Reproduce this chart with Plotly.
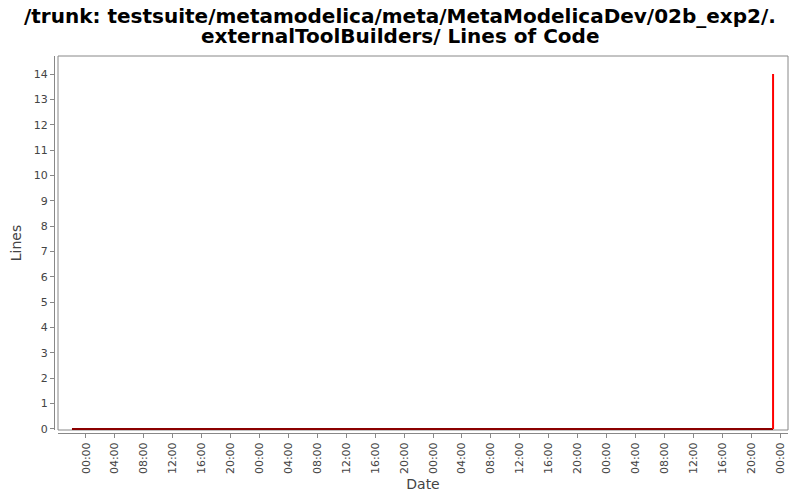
import plotly.graph_objects as go

# Data
base_dates = ["2008-01-06 22:04", "2008-01-10 23:02"]
base_values = [0, 0]
jump_dates = ["2008-01-10 23:02", "2008-01-10 23:02"]
jump_values = [0, 14]
y_ticks = list(range(0, 15))
title_lines = ["/trunk: testsuite/metamodelica/meta/MetaModelicaDev/02b_exp2/.",
               "externalToolBuilders/ Lines of Code"]

fig = go.Figure()
fig.add_trace(go.Scatter(x=base_dates, y=base_values, mode="lines",
                         line=dict(color="#8b0000", width=2), showlegend=False))
fig.add_trace(go.Scatter(x=jump_dates, y=jump_values, mode="lines",
                         line=dict(color="#ff0000", width=2), showlegend=False))

font = "DejaVu Sans, Arial, sans-serif"
W, H = 792, 492
ml, mr, mt, mb = 46, 12, 48, 67
plot_h = H - mt - mb
plot_w = W - ml - mr
fig.update_layout(
    width=W, height=H,
    margin=dict(l=ml, r=mr, t=mt, b=mb),
    paper_bgcolor="white", plot_bgcolor="white",
    xaxis=dict(
        domain=[4/plot_w, 1], anchor="free", position=0, automargin=False,
        type="date",
        range=["2008-01-06 20:08", "2008-01-11 01:06"],
        tickformat="%H:%M", dtick=4*3600*1000, tick0="2008-01-07 00:00",
        tickangle=-90, ticks="outside", ticklen=4, tickcolor="#888",
        showline=True, linecolor="#888", linewidth=1,
        showgrid=False, zeroline=False,
        tickfont=dict(family=font, size=11, color="#444"),
        title=dict(text="Date", font=dict(family=font, size=14, color="#444"), standoff=6),
    ),
    yaxis=dict(
        domain=[3/plot_h, 1], anchor="free", position=0, automargin=False,
        range=[-0.04, 14.71],
        tickvals=y_ticks, ticks="outside", ticklen=4, tickcolor="#888",
        showline=True, linecolor="#888", linewidth=1,
        showgrid=False, zeroline=False,
        tickfont=dict(family=font, size=11, color="#444"),
        title=dict(text="Lines", font=dict(family=font, size=14, color="#444"), standoff=12),
    ),
)
for line, yc in zip(title_lines, [7.5, 27.5]):
    fig.add_annotation(text="<b>" + line + "</b>",
                       xref="paper", yref="paper", x=(W / 2 - 4 - ml) / plot_w,
                       y=1 + (mt - yc) / plot_h,
                       xanchor="center", yanchor="middle", showarrow=False,
                       font=dict(family=font, size=20, color="black"))
fig.add_shape(type="rect", xref="x domain", yref="y domain", x0=0, x1=1, y0=0, y1=1,
              line=dict(color="#888", width=1), layer="below")

fig.write_html("out.html")
